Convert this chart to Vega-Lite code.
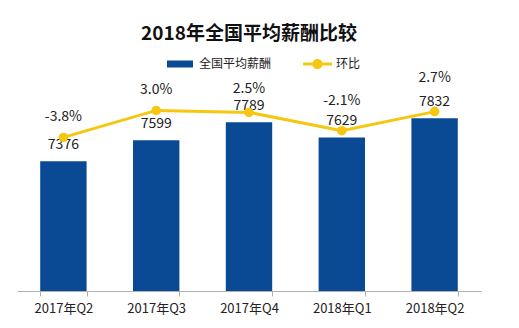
{
  "$schema": "https://vega.github.io/schema/vega-lite/v6.json",
  "autosize": "none",
  "width": 464,
  "height": 231,
  "padding": {"left": 17, "top": 60, "right": 38, "bottom": 37},
  "background": "white",
  "config": {"view": {"stroke": null}, "font": "Noto Sans CJK SC",
    "locale": {"number": {"decimal": ".", "thousands": ",", "grouping": [3], "currency": ["", ""], "minus": "-"}}},
  "title": {"text": "2018年全国平均薪酬比较", "fontSize": 19, "fontWeight": "bold", "color": "#111", "font": "Noto Sans CJK SC", "anchor": "middle", "frame": "group", "offset": 6},
  "data": {"values": [
    {"q": "2017年Q2", "v": 7376, "p": -0.038},
    {"q": "2017年Q3", "v": 7599, "p": 0.030},
    {"q": "2017年Q4", "v": 7789, "p": 0.025},
    {"q": "2018年Q1", "v": 7629, "p": -0.021},
    {"q": "2018年Q2", "v": 7832, "p": 0.027}
  ]},
  "encoding": {
    "x": {"field": "q", "type": "nominal", "sort": null,
      "scale": {"paddingInner": 0.5, "paddingOuter": 0.25},
      "axis": {"title": null, "labelAngle": 0, "tickBand": "extent", "domainColor": "#b0b0b0", "tickColor": "#b0b0b0", "tickSize": 5, "labelFontSize": 13, "labelColor": "#222", "labelPadding": 6, "labelFont": "Noto Sans CJK SC"}}
  },
  "layer": [
    {"mark": {"type": "bar"},
     "encoding": {
       "y": {"field": "v", "type": "quantitative", "scale": {"domain": [6000, 8450], "zero": false, "nice": false}, "axis": null},
       "y2": {"datum": 6000},
       "color": {"datum": "全国平均薪酬", "scale": {"range": ["#0A4A95"]},
         "legend": {"title": null, "orient": "none", "legendX": 150, "legendY": -9, "padding": 0,
           "symbolType": "M-1,-0.27H1V0.27H-1Z", "symbolSize": 676, "symbolStrokeWidth": 0,
           "labelFontSize": 12, "labelColor": "#222", "labelOffset": 6, "labelFont": "Noto Sans CJK SC"}}
     }},
    {"mark": {"type": "text", "dy": -16, "fontSize": 14, "color": "#222", "baseline": "middle"},
     "encoding": {
       "y": {"field": "v", "type": "quantitative", "scale": {"domain": [6000, 8450], "zero": false, "nice": false}, "axis": null},
       "text": {"field": "v", "type": "quantitative", "format": "d"}
     }},
    {"mark": {"type": "line", "strokeWidth": 3, "point": {"filled": true, "size": 90}},
     "encoding": {
       "y": {"field": "p", "type": "quantitative", "scale": {"domain": [-0.425, 0.157], "zero": false, "nice": false}, "axis": null},
       "color": {"datum": "环比", "scale": {"range": ["#F5C710"]},
         "legend": {"title": null, "orient": "none", "legendX": 286, "legendY": -10.5, "padding": 0,
           "symbolType": "M-1,-0.1H1V0.1H-1Z M0.35,0A0.35,0.35,0,1,1,-0.35,0A0.35,0.35,0,1,1,0.35,0Z", "symbolSize": 841,
           "labelFontSize": 12, "labelColor": "#222", "labelOffset": 4, "labelFont": "Noto Sans CJK SC",
           "encode": {"symbols": {"update": {"fill": {"value": "#F5C710"}, "stroke": {"value": "#F5C710"}, "strokeWidth": {"value": 0}}}}}}
     }},
    {"transform": [{"filter": "datum.q == '2017年Q2' || datum.q == '2017年Q3'"}],
     "mark": {"type": "text", "dy": -20, "fontSize": 14, "color": "#222", "baseline": "middle"},
     "encoding": {
       "y": {"field": "p", "type": "quantitative", "scale": {"domain": [-0.425, 0.157], "zero": false, "nice": false}, "axis": null},
       "text": {"field": "p", "type": "quantitative", "format": ".1%"}
     }},
    {"transform": [{"filter": "datum.q == '2017年Q4'"}],
     "mark": {"type": "text", "dy": -23, "fontSize": 14, "color": "#222", "baseline": "middle"},
     "encoding": {
       "y": {"field": "p", "type": "quantitative", "scale": {"domain": [-0.425, 0.157], "zero": false, "nice": false}, "axis": null},
       "text": {"field": "p", "type": "quantitative", "format": ".1%"}
     }},
    {"transform": [{"filter": "datum.q == '2018年Q1'"}],
     "mark": {"type": "text", "dy": -30, "fontSize": 14, "color": "#222", "baseline": "middle"},
     "encoding": {
       "y": {"field": "p", "type": "quantitative", "scale": {"domain": [-0.425, 0.157], "zero": false, "nice": false}, "axis": null},
       "text": {"field": "p", "type": "quantitative", "format": ".1%"}
     }},
    {"transform": [{"filter": "datum.q == '2018年Q2'"}],
     "mark": {"type": "text", "dy": -34, "fontSize": 14, "color": "#222", "baseline": "middle"},
     "encoding": {
       "y": {"field": "p", "type": "quantitative", "scale": {"domain": [-0.425, 0.157], "zero": false, "nice": false}, "axis": null},
       "text": {"field": "p", "type": "quantitative", "format": ".1%"}
     }}
  ],
  "resolve": {"scale": {"y": "independent", "color": "independent"}}
}
